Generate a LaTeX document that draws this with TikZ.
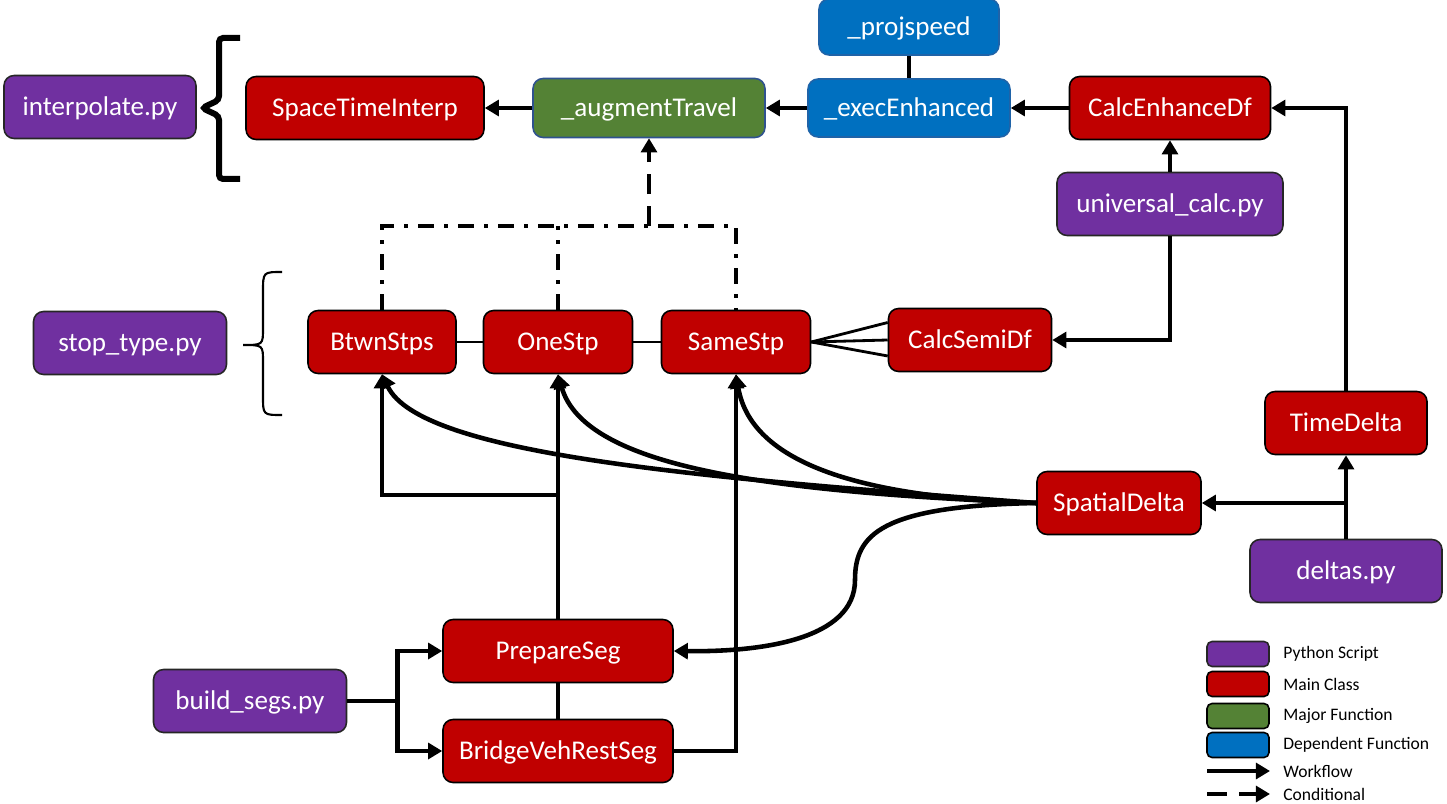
\documentclass[tikz,border=0pt]{standalone}
\usepackage{fontspec}
\setmainfont{Carlito}
\usetikzlibrary{
	positioning,
	arrows.meta
}

\definecolor{pyPurple}{HTML}{7030A0}
\definecolor{mainRed}{HTML}{C00000}
\definecolor{majGreen}{HTML}{548235}
\definecolor{majEdge}{HTML}{2F528F}
\definecolor{depBlue}{HTML}{0070C0}
\definecolor{depEdge}{HTML}{1F63A8}

\begin{document}
\begin{tikzpicture}[
		x=0.02cm, y=-0.02cm,
		box/.style={draw, rounded corners=0.2cm, line width=0.9pt, text=white,
			font=\fontsize{15.4}{18}\selectfont, minimum height=1.26cm, inner sep=0pt,
			text height=12pt, text depth=2pt},
		script/.style={box, fill=pyPurple, draw=black!85},
		main/.style={box, fill=mainRed, draw=black},
		major/.style={box, fill=majGreen, draw=majEdge},
		dep/.style={box, fill=depBlue, draw=depEdge},
		key/.style={draw, rounded corners=0.1cm, line width=0.9pt, minimum width=1.24cm, minimum height=0.5cm, inner sep=0pt},
		keytext/.style={anchor=west, font=\fontsize{10}{12}\selectfont, inner sep=0pt},
		tip/.style={-{Triangle[length=8pt,width=9pt]}},
		flow/.style={line width=2.6pt, tip},
		link/.style={line width=2.6pt},
		thinlink/.style={line width=1.6pt},
		cond/.style={line width=2.6pt, dash pattern=on 0.32cm off 0.2cm on 0.08cm off 0.2cm},
		condflow/.style={line width=2.6pt, dash pattern=on 0.4cm off 0.24cm, tip}
	]
	\useasboundingbox (0,0) rectangle (1447,804);

	% boxes
	\draw
		node[script, minimum width=3.84cm] (interp)    at (100,107)  {interpolate.py}
		node[main,   minimum width=4.76cm] (stinterp)  at (365,108)  {SpaceTimeInterp}
		node[major,  minimum width=4.64cm, minimum height=1.18cm] (augment) at (649,108) {\_augmentTravel}
		node[dep,    minimum width=3.6cm,  minimum height=1.12cm] (projspeed) at (909,27) {\_projspeed}
		node[dep,    minimum width=4.04cm, minimum height=1.16cm] (exec) at (909,108) {\_execEnhanced}
		node[main,   minimum width=4.02cm] (enhance)   at (1170,108) {CalcEnhanceDf}
		node[script, minimum width=4.52cm] (univ)      at (1170,204) {universal\_calc.py}
		node[script, minimum width=3.86cm] (stoptype)  at (130,343)  {stop\_type.py}
		node[main,   minimum width=2.96cm] (btwn)      at (382,342)  {BtwnStps}
		node[main,   minimum width=2.98cm] (onestp)    at (558,342)  {OneStp}
		node[main,   minimum width=2.98cm] (samestp)   at (736,342)  {SameStp}
		node[main,   minimum width=3.26cm] (semidf)    at (970,340)  {CalcSemiDf}
		node[main,   minimum width=3.24cm] (timedelta) at (1346,423) {TimeDelta}
		node[main,   minimum width=3.28cm] (spatial)   at (1119,503) {SpatialDelta}
		node[script, minimum width=3.84cm] (deltas)    at (1346,571) {deltas.py}
		node[main,   minimum width=4.6cm]  (prepare)   at (558,651)  {PrepareSeg}
		node[main,   minimum width=4.6cm]  (bridge)    at (558,751)  {BridgeVehRestSeg}
		node[script, minimum width=3.86cm] (buildsegs) at (250,701)  {build\_segs.py}
	;

	% braces
	\draw[line width=0.12cm, rounded corners=0.08cm]
		(240,38) -- (219,38) -- (219,100) -- (202,108) -- (219,116) -- (219,179) -- (240,179);
	\draw[line width=1.2pt]
		(282,272) .. controls (263,272) .. (263,292) -- (263,328)
		.. controls (263,345) .. (243,345)
		.. controls (263,345) .. (263,362) -- (263,396)
		.. controls (263,415) .. (282,415);

	% top row
	\draw[flow] (augment) -- (stinterp);
	\draw[flow] (exec) -- (augment);
	\draw[flow] (enhance) -- (exec);
	\draw[link] (projspeed) -- (exec);
	\draw[flow] (univ) -- (enhance);
	\draw[flow] (univ.south) |- (semidf.east);
	\draw[flow] (timedelta.north) |- (enhance.east);

	% deltas
	\draw[flow] (deltas.north) -- (timedelta.south);
	\draw[flow] (deltas.north |- spatial.east) -- (spatial.east);

	% stop types
	\draw[thinlink] (btwn) -- (onestp);
	\draw[thinlink] (onestp) -- (samestp);
	\draw[thinlink] (samestp.east) -- (semidf.168);
	\draw[thinlink] (samestp.east) -- (semidf.west);
	\draw[thinlink] (samestp.east) -- (semidf.191);

	\coordinate (bar) at (649,226);
	\draw[cond] (btwn.north) |- (samestp.north |- bar) -- (samestp.north);
	\draw[cond] (onestp.north) -- (onestp.north |- bar);
	\draw[condflow] (bar) -- (augment.south);

	% spatial delta curves
	\draw[flow] (spatial.west) .. controls (700,478) and (420,455) .. (btwn.south);
	\draw[flow] (spatial.west) .. controls (780,492) and (585,470) .. (onestp.south);
	\draw[flow] (spatial.west) .. controls (880,498) and (752,470) .. (samestp.south);
	\draw[flow] (spatial.west) .. controls (880,506) and (855,535) .. (855,580)
		.. controls (855,640) and (760,652) .. (prepare.east);

	% segments
	\coordinate (split) at (558,495);
	\draw[flow] (prepare.north) -- (onestp.south);
	\draw[flow] (split) -| (btwn.south);
	\draw[link] (prepare) -- (bridge);
	\draw[flow] (bridge.east) -| (samestp.south);
	\draw[flow] (buildsegs.east) -- ++(50,0) |- (prepare.west);
	\draw[flow] (buildsegs.east) -- ++(50,0) |- (bridge.west);

	% legend
	\draw
		node[key, fill=pyPurple, draw=black!85] (kpy)   at (1238,654) {}
		node[key, fill=mainRed, draw=black]     (kmain) at (1238,684) {}
		node[key, fill=majGreen, draw=black]    (kmaj)  at (1238,716) {}
		node[key, fill=depBlue, draw=black]     (kdep)  at (1238,745) {}
		node[keytext] (tpy)   at (1283,654) {Python Script}
		node[keytext] (tmain) at (1283,684) {Main Class}
		node[keytext] (tmaj)  at (1283,716) {Major Function}
		node[keytext] (tdep)  at (1283,745) {Dependent Function}
		node[keytext] (twork) at (1283,771) {Workflow}
		node[keytext] (tcond) at (1283,794) {Conditional}
	;
	\coordinate (w0) at (1207,771);
	\coordinate (w1) at (1270,771);
	\coordinate (c0) at (1207,794);
	\coordinate (c1) at (1270,794);
	\draw[flow] (w0) -- (w1);
	\draw[line width=2.6pt, dash pattern=on 0.4cm off 0.24cm, tip] (c0) -- (c1);
\end{tikzpicture}
\end{document}
